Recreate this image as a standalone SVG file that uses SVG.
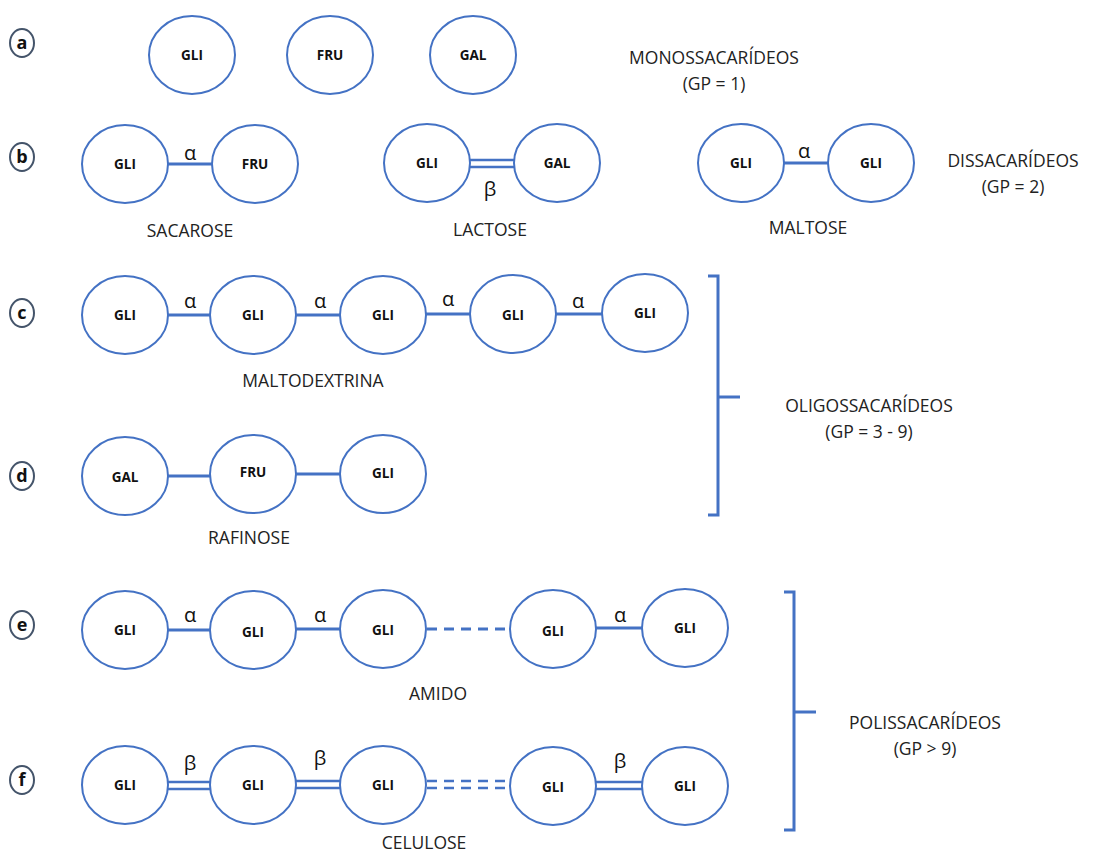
<svg xmlns="http://www.w3.org/2000/svg" width="1098" height="854" viewBox="0 0 1098 854">
<style>
.n{fill:#fff;stroke:#4472C4;stroke-width:2}
.nt{font-family:"Open Sans","Liberation Sans",sans-serif;font-weight:bold;font-size:13.5px;fill:#111;text-anchor:middle;dominant-baseline:central}
.lb{fill:#fff;stroke:#44546A;stroke-width:2}
.lt{font-family:"Open Sans","Liberation Sans",sans-serif;font-weight:bold;font-size:18px;fill:#111;text-anchor:middle;dominant-baseline:central}
.c{stroke:#4472C4;stroke-width:3;fill:none}
.d{stroke:#4472C4;stroke-width:2.5;fill:none}
.dash{stroke-dasharray:10,7}
.g{font-family:"Open Sans","Liberation Sans",sans-serif;font-size:20px;fill:#111;text-anchor:middle;dominant-baseline:central}
.t{font-family:"Open Sans","Liberation Sans",sans-serif;font-size:17.5px;fill:#222;text-anchor:middle;dominant-baseline:central}
.br{stroke:#4472C4;stroke-width:3;fill:none}
</style>
<rect width="1098" height="854" fill="#fff"/>

<g id="row-labels">
<g id="lab-a"><ellipse class="lb" cx="22" cy="43" rx="12" ry="14"/><text class="lt" x="22" y="42">a</text></g>
<g id="lab-b"><ellipse class="lb" cx="22" cy="157" rx="12" ry="14"/><text class="lt" x="22" y="156">b</text></g>
<g id="lab-c"><ellipse class="lb" cx="22" cy="313" rx="12" ry="14"/><text class="lt" x="22" y="312">c</text></g>
<g id="lab-d"><ellipse class="lb" cx="22" cy="476" rx="12" ry="14"/><text class="lt" x="22" y="475">d</text></g>
<g id="lab-e"><ellipse class="lb" cx="22" cy="625" rx="12" ry="14"/><text class="lt" x="22" y="624">e</text></g>
<g id="lab-f"><ellipse class="lb" cx="22" cy="780" rx="12" ry="14"/><text class="lt" x="22" y="779">f</text></g>
</g>

<g id="connectors">
<line class="c" x1="168" y1="164" x2="212" y2="164"/>
<line class="d" x1="470" y1="160" x2="514" y2="160"/>
<line class="d" x1="470" y1="167" x2="514" y2="167"/>
<line class="c" x1="784" y1="163" x2="828" y2="163"/>
<line class="c" x1="168" y1="315" x2="210" y2="315"/>
<line class="c" x1="296" y1="315" x2="340" y2="315"/>
<line class="c" x1="426" y1="314" x2="470" y2="314"/>
<line class="c" x1="556" y1="314" x2="602" y2="314"/>
<line class="c" x1="168" y1="476" x2="210" y2="476"/>
<line class="c" x1="296" y1="474" x2="340" y2="474"/>
<line class="c" x1="168" y1="630" x2="210" y2="630"/>
<line class="c" x1="296" y1="629" x2="340" y2="629"/>
<line class="c dash" x1="427" y1="629" x2="510" y2="629"/>
<line class="c" x1="596" y1="628" x2="642" y2="628"/>
<line class="d" x1="168" y1="782" x2="210" y2="782"/>
<line class="d" x1="168" y1="789" x2="210" y2="789"/>
<line class="d" x1="296" y1="781" x2="340" y2="781"/>
<line class="d" x1="296" y1="788" x2="340" y2="788"/>
<line class="d dash" x1="427" y1="781" x2="510" y2="781"/>
<line class="d dash" x1="427" y1="788" x2="510" y2="788"/>
<line class="d" x1="596" y1="782" x2="642" y2="782"/>
<line class="d" x1="596" y1="789" x2="642" y2="789"/>
<path class="br" d="M708,276 H718 V515 H708 M718,397 H740"/>
<path class="br" d="M784,592 H794 V830 H784 M794,712 H816"/>
</g>

<g id="row-a">
<g id="a1"><ellipse class="n" cx="192" cy="55" rx="43" ry="39"/><text class="nt" x="192" y="55">GLI</text></g>
<g id="a2"><ellipse class="n" cx="330" cy="55" rx="43" ry="39"/><text class="nt" x="330" y="55">FRU</text></g>
<g id="a3"><ellipse class="n" cx="473" cy="55" rx="43" ry="39"/><text class="nt" x="473" y="55">GAL</text></g>
<g id="mono"><text class="t" x="714" y="57">MONOSSACARÍDEOS</text><text class="t" x="714" y="83">(GP = 1)</text></g>
</g>

<g id="row-b">
<g id="b1"><ellipse class="n" cx="125" cy="164" rx="43" ry="39"/><text class="nt" x="125" y="164">GLI</text></g>
<g id="b2"><ellipse class="n" cx="255" cy="164" rx="43" ry="39"/><text class="nt" x="255" y="164">FRU</text></g>
<text class="g" x="190" y="152">α</text>
<text class="t" x="190" y="230">SACAROSE</text>
<g id="b3"><ellipse class="n" cx="427" cy="163" rx="43" ry="39"/><text class="nt" x="427" y="163">GLI</text></g>
<g id="b4"><ellipse class="n" cx="557" cy="163" rx="43" ry="39"/><text class="nt" x="557" y="163">GAL</text></g>
<text class="g" x="490" y="188">β</text>
<text class="t" x="490" y="229">LACTOSE</text>
<g id="b5"><ellipse class="n" cx="741" cy="163" rx="43" ry="39"/><text class="nt" x="741" y="163">GLI</text></g>
<g id="b6"><ellipse class="n" cx="871" cy="163" rx="43" ry="39"/><text class="nt" x="871" y="163">GLI</text></g>
<text class="g" x="804" y="150">α</text>
<text class="t" x="808" y="227">MALTOSE</text>
<g id="di"><text class="t" x="1013" y="160">DISSACARÍDEOS</text><text class="t" x="1013" y="186">(GP = 2)</text></g>
</g>

<g id="row-c">
<g id="c1"><ellipse class="n" cx="125" cy="315" rx="43" ry="39"/><text class="nt" x="125" y="315">GLI</text></g>
<g id="c2"><ellipse class="n" cx="253" cy="315" rx="43" ry="39"/><text class="nt" x="253" y="315">GLI</text></g>
<g id="c3"><ellipse class="n" cx="383" cy="315" rx="43" ry="39"/><text class="nt" x="383" y="315">GLI</text></g>
<g id="c4"><ellipse class="n" cx="513" cy="314" rx="43" ry="39"/><text class="nt" x="513" y="315">GLI</text></g>
<g id="c5"><ellipse class="n" cx="645" cy="313" rx="43" ry="39"/><text class="nt" x="645" y="313">GLI</text></g>
<text class="g" x="190" y="300">α</text>
<text class="g" x="320" y="300">α</text>
<text class="g" x="448" y="298">α</text>
<text class="g" x="578" y="300">α</text>
<text class="t" x="313" y="380">MALTODEXTRINA</text>
</g>

<g id="row-d">
<g id="d1"><ellipse class="n" cx="125" cy="476" rx="43" ry="39"/><text class="nt" x="125" y="477">GAL</text></g>
<g id="d2"><ellipse class="n" cx="253" cy="474" rx="43" ry="39"/><text class="nt" x="253" y="472">FRU</text></g>
<g id="d3"><ellipse class="n" cx="383" cy="474" rx="43" ry="39"/><text class="nt" x="383" y="473">GLI</text></g>
<text class="t" x="249" y="537">RAFINOSE</text>
</g>

<g id="oligo"><text class="t" x="869" y="405">OLIGOSSACARÍDEOS</text><text class="t" x="869" y="431">(GP = 3 - 9)</text></g>

<g id="row-e">
<g id="e1"><ellipse class="n" cx="125" cy="630" rx="43" ry="39"/><text class="nt" x="125" y="630">GLI</text></g>
<g id="e2"><ellipse class="n" cx="253" cy="630" rx="43" ry="39"/><text class="nt" x="253" y="632">GLI</text></g>
<g id="e3"><ellipse class="n" cx="383" cy="629" rx="43" ry="39"/><text class="nt" x="383" y="630">GLI</text></g>
<g id="e4"><ellipse class="n" cx="553" cy="629" rx="43" ry="39"/><text class="nt" x="553" y="631">GLI</text></g>
<g id="e5"><ellipse class="n" cx="685" cy="628" rx="43" ry="39"/><text class="nt" x="685" y="628">GLI</text></g>
<text class="g" x="190" y="614">α</text>
<text class="g" x="320" y="614">α</text>
<text class="g" x="620" y="614">α</text>
<text class="t" x="438" y="693">AMIDO</text>
</g>

<g id="row-f">
<g id="f1"><ellipse class="n" cx="125" cy="785" rx="43" ry="39"/><text class="nt" x="125" y="785">GLI</text></g>
<g id="f2"><ellipse class="n" cx="253" cy="785" rx="43" ry="39"/><text class="nt" x="253" y="785">GLI</text></g>
<g id="f3"><ellipse class="n" cx="383" cy="785" rx="43" ry="39"/><text class="nt" x="383" y="785">GLI</text></g>
<g id="f4"><ellipse class="n" cx="553" cy="786" rx="43" ry="39"/><text class="nt" x="553" y="787">GLI</text></g>
<g id="f5"><ellipse class="n" cx="685" cy="786" rx="43" ry="39"/><text class="nt" x="685" y="786">GLI</text></g>
<text class="g" x="190" y="762">β</text>
<text class="g" x="320" y="757">β</text>
<text class="g" x="620" y="760">β</text>
<text class="t" x="424" y="842">CELULOSE</text>
</g>

<g id="poly"><text class="t" x="925" y="722">POLISSACARÍDEOS</text><text class="t" x="925" y="748">(GP &gt; 9)</text></g>
</svg>
